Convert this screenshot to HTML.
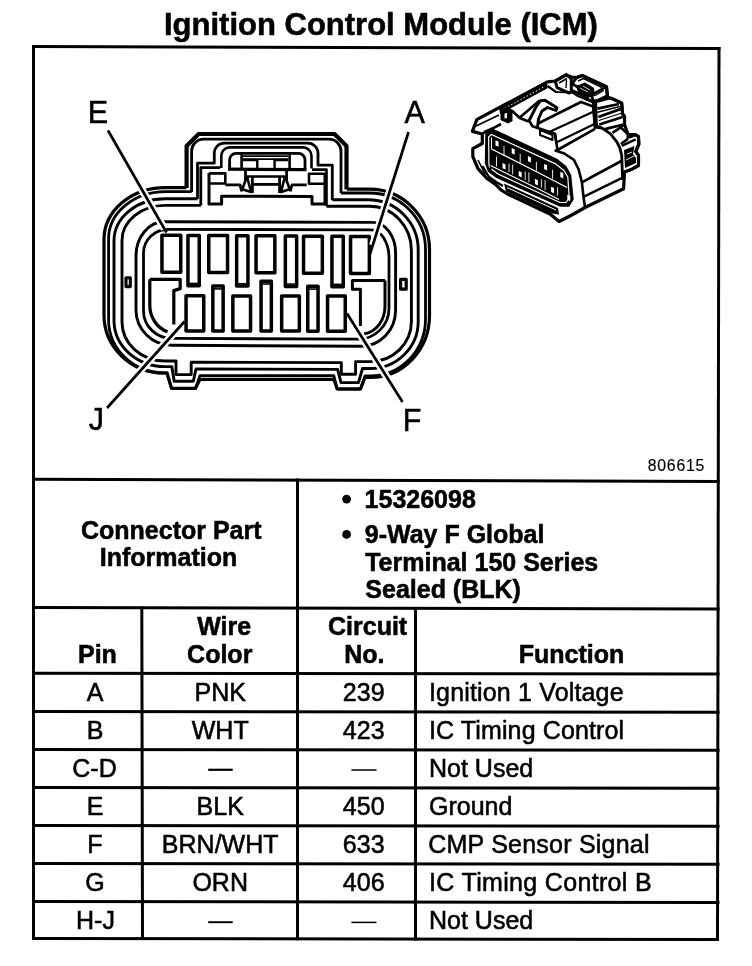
<!DOCTYPE html>
<html><head><meta charset="utf-8"><title>Ignition Control Module (ICM)</title>
<style>
html,body{margin:0;padding:0;background:#fff;}
body{width:752px;height:966px;overflow:hidden;}
svg{display:block;filter:grayscale(1);}
text{font-family:"Liberation Sans",sans-serif;fill:#000;stroke:#000;stroke-width:0.55px;}
.b{font-weight:bold;}
</style></head>
<body>
<svg width="752" height="966" viewBox="0 0 752 966">
<rect x="0" y="0" width="752" height="966" fill="#fff"/>
<!-- title -->
<text class="b" x="164" y="35" font-size="31">Ignition Control Module (ICM)</text>

<!-- frame & table lines -->
<g stroke="#000" stroke-width="3" fill="none" stroke-linecap="square">
<line x1="33.5" y1="46.5" x2="719" y2="48.5"/>
<line x1="33.5" y1="46.5" x2="33.5" y2="938.5"/>
<line x1="719" y1="48.5" x2="717.5" y2="939.5"/>
<line x1="33.5" y1="938.5" x2="717.5" y2="939.5"/>
<line x1="33.5" y1="479.3" x2="718" y2="481.5"/>
<line x1="33.5" y1="607.6" x2="718" y2="609"/>
<line x1="33.5" y1="673.2" x2="718" y2="674"/>
<line x1="33.5" y1="711.4" x2="718" y2="712.2"/>
<line x1="33.5" y1="749.5" x2="718" y2="750.3"/>
<line x1="33.5" y1="787.5" x2="718" y2="788.3"/>
<line x1="33.5" y1="825.5" x2="718" y2="826.3"/>
<line x1="33.5" y1="863.5" x2="718" y2="864.3"/>
<line x1="33.5" y1="901.4" x2="718" y2="902.6"/>
<line x1="141.8" y1="608" x2="142.5" y2="938.5"/>
<line x1="297.5" y1="480" x2="297.5" y2="938.7"/>
<line x1="415.5" y1="608.5" x2="415.5" y2="939"/>
</g>

<!-- figure number -->
<text x="647.8" y="470.7" font-size="15.8" letter-spacing="0.75" style="stroke-width:0.15px">806615</text>

<!-- connector part info -->
<text class="b" x="81" y="538.5" font-size="25">Connector Part</text>
<text class="b" x="99.8" y="565.6" font-size="25">Information</text>
<circle cx="346.6" cy="499.1" r="4.4"/>
<circle cx="346.6" cy="534.4" r="4.4"/>
<text class="b" x="364.6" y="508.1" font-size="25">15326098</text>
<text class="b" x="364.8" y="543" font-size="25">9-Way F Global</text>
<text class="b" x="365.2" y="570.7" font-size="25">Terminal 150 Series</text>
<text class="b" x="365.3" y="598.3" font-size="25">Sealed (BLK)</text>

<!-- table header -->
<text class="b" x="197.2" y="635.3" font-size="25">Wire</text>
<text class="b" x="328" y="635.3" font-size="25">Circuit</text>
<text class="b" x="78" y="662.8" font-size="25">Pin</text>
<text class="b" x="187.1" y="662.8" font-size="25">Color</text>
<text class="b" x="344.3" y="662.8" font-size="25">No.</text>
<text class="b" x="518.8" y="663.1" font-size="25">Function</text>

<!-- table rows -->
<g font-size="25" style="stroke-width:0.9px">
<g text-anchor="middle">
<text x="95" y="700.6">A</text>
<text x="95" y="738.6">B</text>
<text x="94.5" y="776.6">C-D</text>
<text x="95" y="814.6">E</text>
<text x="95" y="852.6">F</text>
<text x="95" y="890.6">G</text>
<text x="95.5" y="928.6">H-J</text>
<text x="220.2" y="700.6">PNK</text>
<text x="220.2" y="738.6">WHT</text>
<text x="220.2" y="814.6">BLK</text>
<text x="220.2" y="852.6">BRN/WHT</text>
<text x="220.2" y="890.6">ORN</text>
<text x="363.7" y="700.6">239</text>
<text x="363.7" y="738.6">423</text>
<text x="363.7" y="814.6">450</text>
<text x="363.7" y="852.6">633</text>
<text x="363.7" y="890.6">406</text>
</g>
<text x="429" y="700.6" letter-spacing="0.16">Ignition 1 Voltage</text>
<text x="429" y="738.6" letter-spacing="0.12">IC Timing Control</text>
<text x="429" y="776.6">Not Used</text>
<text x="429" y="814.6">Ground</text>
<text x="428.3" y="852.8" letter-spacing="0.22">CMP Sensor Signal</text>
<text x="429" y="891" letter-spacing="0.33">IC Timing Control B</text>
<text x="429" y="928.6">Not Used</text>
</g>
<g stroke="#000" fill="none">
<line x1="208.2" y1="769.8" x2="232.7" y2="769.8" stroke-width="2.2"/>
<line x1="208.2" y1="922.2" x2="232.7" y2="922.2" stroke-width="2.0"/>
<line x1="351.4" y1="770" x2="376.5" y2="770" stroke-width="1.5"/>
<line x1="351.4" y1="922.4" x2="376.5" y2="922.4" stroke-width="1.5"/>
</g>

<!-- connector face drawing -->
<g id="face" stroke="#000" stroke-width="3" fill="none" stroke-linejoin="round">
<path d="M186.3 187.6L165 187.6A61 52 0 0 0 104 239.6L104 315A60 58 0 0 0 164 373L167 373L171.5 388.3L195.5 388.3L200 379.3L333.8 379.3L337.2 389L360.5 389L365 377.5L370.5 377.5A59 62 0 0 0 429.5 315.5L429.5 249.2A60 60 0 0 0 369.5 189.2L347 189.2" stroke-width="3.2"/>
<path d="M191.6 191.6L165.6 191.6A57 47 0 0 0 108.6 238.6L108.6 320A56 53 0 0 0 164.6 373L167 373L171.5 388.3L195.5 388.3L200 375.6L333.8 375.6L337.2 389L360.5 389L365 376L370.5 376A55 57 0 0 0 425.5 319L425.5 249A56 56 0 0 0 369.5 193L341 193" stroke-width="2.8"/>
<path d="M197.5 198.8L165 198.8A51 42 0 0 0 114 240.8L114 320.6A51 46 0 0 0 165 366.6L171.8 366.6L174.2 381.2L193.3 381.2L196 369L337.6 369.4L341 382.6L358.5 382.6L362.5 368.5L370.2 368.5A48 47 0 0 0 418.2 321.5L418.2 249.8A50 50 0 0 0 368.2 199.8L332.3 199.8" stroke-width="2.9"/>
<path d="M200.8 205.4L165 205.4A43 35 0 0 0 122 240.4L122 322A43 39 0 0 0 165 361L176 361L176 374.6L191.2 374.6L191.2 362.2L341.3 362.6L341.3 374.3L355.6 374.3L355.6 361.6L370.4 361.6A41 40 0 0 0 411.4 321.6L411.4 250.3A42 44 0 0 0 369.4 206.3L326.5 206.3" stroke-width="2.9"/>
<path d="M186.6 188 L186.6 146 L198.6 134 L334.5 134 L346.5 146 L346.5 189.5" stroke-width="4.2"/>
<path d="M191.6 192 L191.6 152 A12 12 0 0 1 203.6 139.2 L329 139.2 A12 12 0 0 1 341 151.2 L341 193" stroke-width="2.8"/>
<path d="M197.5 199 L197.5 163.2 L214.3 163.2 L214.3 154 A10 10 0 0 1 224.3 143.2 L308 143.2 A10 10 0 0 1 318 153.2 L318 165.2 L332.3 165.2 L332.3 200" stroke-width="2.8"/>
<path d="M200.8 205.4 L200.8 167.6 L220 167.6" stroke-width="2.8"/>
<path d="M326.5 206.3 L326.5 169.6 L312 169.6" stroke-width="2.6"/>
<path d="M221.3 168 L221.3 156 A8.5 8.5 0 0 1 229.8 147.4 L303 147.4 A8.5 8.5 0 0 1 311.5 155.9 L311.5 168.5" stroke-width="2.6"/>
<path d="M229.6 169 L229.6 160 A6.5 6.5 0 0 1 236 153.4 L298.5 153.4 A6.5 6.5 0 0 1 305 160 L305 169.5" stroke-width="2.8"/>
<path d="M228 169.2 L306.5 169.6" stroke-width="3.2"/>
<path d="M241.6 154 L241.6 169 M289.6 154 L289.6 169.5" stroke-width="2.6"/>
<path d="M243 156.2 L288 156.2 M243 159.2 L288 159.2" stroke-width="1.8"/>
<path d="M243 160 L257.3 160 L257.3 168.5 M288.3 160 L274.6 160 L274.6 168.5" stroke-width="2.4"/>
<path d="M209 173 L209 204 L221.6 204 L221.6 196.2 L312 196.4 L312 204 L325 204 L325 173.5" stroke-width="3"/>
<path d="M209 173.4 L225.3 173.4 L225.3 183.5 L209 183.5" stroke-width="2.6"/>
<path d="M325 173.7 L309 173.7 L309 183.8 L325 183.8" stroke-width="2.6"/>
<path d="M225.3 184.8 L240 184.8 L241.8 191.5" stroke-width="2.8"/>
<path d="M245.5 171 L245.5 180" stroke-width="2.8"/>
<path d="M286.6 171 L286.6 180" stroke-width="2.8"/>
<path d="M306.7 184.8 L292 184.8 L290.2 191.5" stroke-width="2.8"/>
<path d="M247 176.3 L242.3 189.3 L251 192 L247 176.3" stroke-width="2.6"/>
<path d="M285 176.3 L289.7 189.3 L281 192 L285 176.3" stroke-width="2.6"/>
<path d="M247 176.5 L285 176.5" stroke-width="2.4"/>
<path d="M252.4 176.5 L252.4 193 M279.6 176.5 L279.6 193" stroke-width="2.8"/>
<path d="M252.4 184.4 L279.6 184.4" stroke-width="2.8"/>
<path d="M373 222.4 L164.5 221.8 A28.5 34 0 0 0 136 255.8 L136 310 A36 35.3 0 0 0 172 345.3 L361 346.2 A34.6 36 0 0 0 395.6 310.2 L395.6 253 A22.6 30.6 0 0 0 373 222.4" stroke-width="2.9"/>
<path d="M371 229.8 L168 229.3 A24.5 24 0 0 0 143.5 253.3 L143.5 311 A28.5 27.4 0 0 0 172 338.4 L358 339.2 A31 31 0 0 0 389 308.2 L389 258 A18 28.2 0 0 0 371 229.8" stroke-width="2.8"/>
<path d="M126 277.8 L130.3 277.8 L130.3 286.6 L126 286.6 Z" stroke-width="3.1"/>
<path d="M400.6 279.3 L406.2 279.3 L406.2 289.2 L400.6 289.2 Z" stroke-width="3.2"/>
<path d="M161.95 235.25 H180.75 V272.25 H161.95 Z" stroke-width="3.5"/>
<path d="M208.75 235.55 H227.55 V272.55 H208.75 Z" stroke-width="3.5"/>
<path d="M256.05 235.84 H274.85 V272.84 H256.05 Z" stroke-width="3.5"/>
<path d="M303.55 236.14 H322.35 V273.14 H303.55 Z" stroke-width="3.5"/>
<path d="M350.55 236.44 H369.35 V273.44 H350.55 Z" stroke-width="3.5"/>
<path d="M187.95 235.42 H199.25 V285.82 H187.95 Z" stroke-width="3.5"/>
<path d="M189.2 283.47 H198" stroke-width="1.6"/>
<path d="M236.65 235.72 H247.95 V286.12 H236.65 Z" stroke-width="3.5"/>
<path d="M237.9 283.77 H246.7" stroke-width="1.6"/>
<path d="M285.35 236.03 H296.65 V286.43 H285.35 Z" stroke-width="3.5"/>
<path d="M286.6 284.08 H295.4" stroke-width="1.6"/>
<path d="M331.95 236.32 H343.25 V286.72 H331.95 Z" stroke-width="3.5"/>
<path d="M333.2 284.37 H342" stroke-width="1.6"/>
<path d="M186.05 295.8 H203.75 V330.9 H186.05 Z" stroke-width="3.5"/>
<path d="M232.85 295.88 H250.55 V330.98 H232.85 Z" stroke-width="3.5"/>
<path d="M281.65 295.98 H299.35 V331.08 H281.65 Z" stroke-width="3.5"/>
<path d="M327.55 296.06 H345.25 V331.16 H327.55 Z" stroke-width="3.5"/>
<path d="M212.85 286.05 H223.15 V330.95 H212.85 Z" stroke-width="3.5"/>
<path d="M214.1 288.9 H221.9" stroke-width="1.6"/>
<path d="M261.05 281.14 H271.35 V331.04 H261.05 Z" stroke-width="3.5"/>
<path d="M262.3 283.99 H270.1" stroke-width="1.6"/>
<path d="M307.75 286.23 H318.05 V331.13 H307.75 Z" stroke-width="3.5"/>
<path d="M309 289.08 H316.8" stroke-width="1.6"/>
<path d="M149.8 279.3 L180.2 279.3 L180.2 288.6 L173.8 290.6 L173.8 324.5" stroke-width="3.2"/>
<path d="M149.8 279.3 L149.8 305 A26 28 0 0 0 167.5 331.8" stroke-width="3.2"/>
<path d="M385 280.6 L352.4 280.6 L352.4 289.2 L360.4 289.2 L360.4 326" stroke-width="3"/>
<path d="M385 280.6 L385 306 A24 28 0 0 1 364 334" stroke-width="3"/>
<line x1="108" y1="130.5" x2="164.45" y2="228.93" stroke="#fff" stroke-width="7.5" stroke-linecap="butt"/>
<line x1="408.5" y1="132" x2="372.69" y2="245.46" stroke="#fff" stroke-width="7.5" stroke-linecap="butt"/>
<line x1="107" y1="408" x2="179.07" y2="327.56" stroke="#fff" stroke-width="7.5" stroke-linecap="butt"/>
<line x1="402.5" y1="402" x2="350.88" y2="319.69" stroke="#fff" stroke-width="7.5" stroke-linecap="butt"/>
<line x1="108" y1="130.5" x2="166.5" y2="232.5" stroke-width="2.7"/>
<line x1="408.5" y1="132" x2="370" y2="254" stroke-width="2.7"/>
<line x1="107" y1="408" x2="184.5" y2="321.5" stroke-width="2.7"/>
<line x1="402.5" y1="402" x2="347" y2="313.5" stroke-width="2.7"/>

</g>

<!-- labels -->
<g font-size="30.5" style="stroke-width:1.5px">
<text x="87.8" y="123.2">E</text>
<text x="404.6" y="123.2">A</text>
<text x="88.8" y="430.4">J</text>
<text x="402.8" y="431.2">F</text>
</g>

<!-- isometric connector -->
<g id="iso" stroke="#000" stroke-width="2.5" fill="none" stroke-linejoin="round">
<path d="M486.5 131.5 L492 129.5 L556 159.5 L565.5 167 L570 175 L572.5 199 L568.5 205.5 L560 205.5 L497 177 L489 171 L486 163 Z" fill="#000" stroke="none"/>
<path d="M489 168 L488.6 137 L491.5 134.5 L555 163.6 L564 170.5 L567.8 177 L569.2 198 L566 202.5 L560 202.5 L498 174 L491.5 169" stroke="#fff" stroke-width="1.2" fill="none"/>
<path d="M491.5 149 L540 173.5 L567 187.5" stroke="#fff" stroke-width="1.3" fill="none"/>
<path d="M490.5 165.5 L540 189.8 L559 199.5" stroke="#fff" stroke-width="1.1" fill="none"/>
<path d="M491.5 137.5 L491.5 149" stroke="#fff" stroke-width="1" fill="none"/>
<path d="M495.5 140.2 L498.5 141.6 L498.5 146.8 L495.5 145.4 Z" fill="#fff" stroke="none"/>
<path d="M511.7 148.1 L514.7 149.5 L514.7 154.7 L511.7 153.3 Z" fill="#fff" stroke="none"/>
<path d="M527.9 156 L530.9 157.4 L530.9 162.6 L527.9 161.2 Z" fill="#fff" stroke="none"/>
<path d="M544.1 163.9 L547.1 165.3 L547.1 170.5 L544.1 169.1 Z" fill="#fff" stroke="none"/>
<path d="M560.3 171.8 L563.3 173.2 L563.3 178.4 L560.3 177 Z" fill="#fff" stroke="none"/>
<path d="M504 146 L504 155" stroke="#fff" stroke-width="0.9" fill="none"/>
<path d="M520.2 153.9 L520.2 162.9" stroke="#fff" stroke-width="0.9" fill="none"/>
<path d="M536.4 161.8 L536.4 170.8" stroke="#fff" stroke-width="0.9" fill="none"/>
<path d="M552.6 169.7 L552.6 178.7" stroke="#fff" stroke-width="0.9" fill="none"/>
<path d="M502.5 163 L505.5 164.4 L505.5 169.6 L502.5 168.2 Z" fill="#fff" stroke="none"/>
<path d="M518.7 170.9 L521.7 172.3 L521.7 177.5 L518.7 176.1 Z" fill="#fff" stroke="none"/>
<path d="M534.9 178.8 L537.9 180.2 L537.9 185.4 L534.9 184 Z" fill="#fff" stroke="none"/>
<path d="M551.1 186.7 L554.1 188.1 L554.1 193.3 L551.1 191.9 Z" fill="#fff" stroke="none"/>
<path d="M567.3 194.6 L570.3 196 L570.3 201.2 L567.3 199.8 Z" fill="#fff" stroke="none"/>
<path d="M496.5 156.5 L496.5 166.5" stroke="#fff" stroke-width="0.9" fill="none"/>
<path d="M509 163.5 L509 172" stroke="#fff" stroke-width="0.9" fill="none"/>
<path d="M512.7 164.4 L512.7 174.4" stroke="#fff" stroke-width="0.9" fill="none"/>
<path d="M525.2 171.4 L525.2 179.9" stroke="#fff" stroke-width="0.9" fill="none"/>
<path d="M528.9 172.3 L528.9 182.3" stroke="#fff" stroke-width="0.9" fill="none"/>
<path d="M541.4 179.3 L541.4 187.8" stroke="#fff" stroke-width="0.9" fill="none"/>
<path d="M545.1 180.2 L545.1 190.2" stroke="#fff" stroke-width="0.9" fill="none"/>
<path d="M557.6 187.2 L557.6 195.7" stroke="#fff" stroke-width="0.9" fill="none"/>
<path d="M486.5 131.5 L492 129.5 L556 159.5 L565.5 167 L570 175 L572.5 199 L568.5 205.5 L560 205.5 L497 177 L489 171 L486 163 L486.5 131.5 Z" stroke-width="2.4"/>
<path d="M472.4 131.4 L476.7 119.7 L547.5 81.8 L555.2 81 L566 75 L571.5 77 L577 77.5 L582.5 75.6 L606.5 87 L607.5 97.5 L611.4 98.4 L621.7 103 L622.6 114.2 L624.5 116.1 L624.5 124.5 L628.2 134.7 L635.7 134.7 L638.5 136.6 L638.9 144 L635.7 151.5 L638.5 155.2 L638.5 165.5 L631.9 169.2 L624.5 172 L623.6 188.8 L586 207 L570 216 L559 221.5 L550 214 L507.5 194 L501.3 190.2 L495.2 184.1 L486.6 178.1 L478 168.6 L472.8 156.5 L472.8 148.7 L482.3 143.5 L482.3 134 Z" stroke-width="3.2"/>
<path d="M504 183.5 L558 208 L559 214.5 L552 213.5 L506 191.5 Z" fill="#000" stroke="none"/>
<path d="M507 187.5 L556 210" stroke="#fff" stroke-width="1"/>
<path d="M482.5 166 L489 177 L497 182.5 L503 186" stroke-width="2.2"/>
<path d="M478 160 L484 172 L494 181" stroke-width="1.6"/>
<path d="M528.6 121.5 L536 107 L540.5 100.6 L545 100.2 L557 107.7 L556 110.5 L547.5 107.5 L542 111 L538.5 119 L537.5 127" stroke-width="2.9"/>
<path d="M519.8 117.5 L539.6 100.6" stroke-width="2.6"/>
<path d="M511.8 110.5 L519.8 118 L528.6 121.5" stroke-width="2.6"/>
<path d="M499 106.5 L547 80.8 L547.5 88.3 L500 114 Z" fill="#000" stroke="none"/>
<path d="M502 109.8 L545 86.3" stroke="#fff" stroke-width="1" stroke-dasharray="1.5 2"/>
<path d="M476 126 L499 115" stroke-width="1.8"/>
<path d="M482.3 134 L485.7 131.4 L495.2 127.1 L501 124" stroke-width="2.6"/>
<path d="M500.5 110 L507.5 106.5 L512.5 110 L512.5 121 L508 123.5 L500.5 120 Z" fill="#000" stroke="none"/>
<path d="M504.5 113.5 L507 113 L507 118 L504.5 118.5 Z" fill="#fff" stroke="none"/>
<path d="M528.7 120 L532.5 126.2 L540 128.8 L555 133.8 L556.3 142.5 L557.5 150" stroke-width="2.6"/>
<path d="M540 130 L552.5 135 L552.5 140 L540 135 L540 130 Z" stroke-width="2"/>
<path d="M537.5 123.8 L581 102 L593.2 106.5" stroke-width="2.8"/>
<path d="M548.2 132.6 L593.2 111.7" stroke-width="2.2"/>
<path d="M555 133.8 L556.3 142.5" stroke-width="2.4"/>
<path d="M556.3 142.5 L595 123.8" stroke-width="2.2"/>
<path d="M557.5 150 L595 128.8" stroke-width="2.6"/>
<path d="M593.2 106.5 L595 128.8" stroke-width="2.6"/>
<path d="M570.7 89.3 L581 95 L593.2 102.1" stroke-width="2.4"/>
<path d="M547.5 86 L556 92 L577 92.5" stroke-width="2.2"/>
<path d="M555.2 81 L566.4 74.5 L571.3 79 L571.3 91.5 L569.2 93.1 L557.1 87.6 L555.2 81 Z" stroke-width="3"/>
<path d="M559 83 L567 78.5" stroke-width="1.6"/>
<path d="M566.5 80 L566 88" stroke-width="1.4"/>
<path d="M572 83.8 L576.7 77.3 L582.2 75.4 L606.5 86.6 L607.4 95.9 L593.4 102.4 L591.6 95 L572 83.8 Z" stroke-width="3"/>
<path d="M591.6 95 L606.5 86.6" stroke-width="2.6"/>
<path d="M578 81 L583.5 78.5 L602 87.5" stroke-width="1.4"/>
<path d="M576 86 L585 82.5 L594 88 L595 95.5 L586 98.5 L578 93 Z" fill="#000" stroke="none"/>
<path d="M580 88 L588 92 M583 86 L590 90" stroke="#fff" stroke-width="0.8"/>
<path d="M594.3 96 L603.7 90.3" stroke-width="1.4"/>
<path d="M571.3 91.5 L578 96 L593.4 102.4" stroke-width="2.4"/>
<path d="M593.4 102.4 L594.8 124.6" stroke-width="2.6"/>
<path d="M607.7 97.5 L611.4 98.4 L621.7 103 L622.6 114.2 L624.5 116.1 L624.5 124.5 L620.8 126.3" stroke-width="2.8"/>
<path d="M595.6 102.1 L608.6 98.4" stroke-width="2.6"/>
<path d="M597.5 108.6 L618.9 104" stroke-width="2.8"/>
<path d="M596.5 112.5 L620 106.5" stroke-width="1.4"/>
<path d="M598.4 117 L621.7 108.6" stroke-width="2.8"/>
<path d="M599.3 124.5 L622.6 117" stroke-width="2.8"/>
<path d="M598.8 120.5 L622 113" stroke-width="1.2"/>
<path d="M604.9 129.1 L623.6 124.5" stroke-width="2.8"/>
<path d="M595.6 99.3 L596.5 127.3 L602.1 128.2 L610.5 133.8 L617 142.2 L619.8 147.8 L621.7 155.2 L622.6 180" stroke-width="2.8"/>
<path d="M612.4 132.9 L620.8 127.3 L628.2 134.7 L627.3 139.4 L620.8 144" stroke-width="2.6"/>
<path d="M629.1 137.5 L635.7 134.7 L638.5 136.6 L638.9 144 L635.7 151.5 L638.5 155.2 L638.5 165.5 L631.9 169.2 L624.5 172" stroke-width="2.8"/>
<path d="M621.7 145.9 L635.7 139.4" stroke-width="2.4"/>
<path d="M624 150 L634.5 146 L633 154 L636 158 L636 163 L625 168 Z" fill="#000" stroke="none"/>
<path d="M626 160 L634 156 M627 154 L632 152" stroke="#fff" stroke-width="0.9"/>
<path d="M554.6 150.3 L564.3 153.5 L573.9 159.9 L578.7 169.5 L581.9 182.4 L583.5 196.8 L585.1 208" stroke-width="2.6"/>
<path d="M594.8 124.6 L602.1 128.2" stroke-width="2.6"/>
<path d="M581.9 182.4 L621.7 160.8" stroke-width="2.6"/>
<path d="M583.5 196.8 L622.6 177.6" stroke-width="2.4"/>
<path d="M590 177.6 L621.7 160.8" stroke-width="2.2"/>

</g>
</svg>
</body></html>
